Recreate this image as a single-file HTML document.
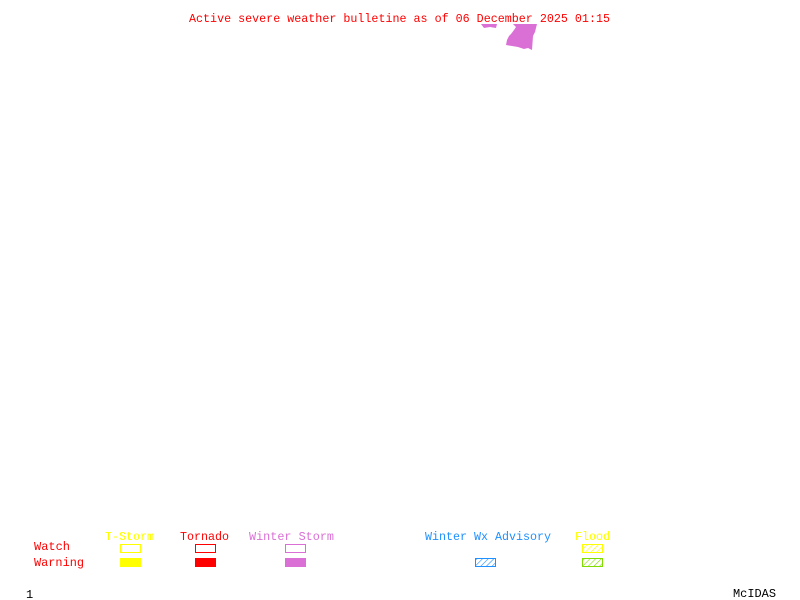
<!DOCTYPE html>
<html><head><meta charset="utf-8"><style>
html,body{margin:0;padding:0;background:#fff;width:800px;height:600px;overflow:hidden}
text{font-family:"Liberation Mono",monospace;font-size:12px}
</style></head><body>
<svg width="800" height="600" xmlns="http://www.w3.org/2000/svg">
<defs>
<pattern id="hb" width="4" height="4" patternUnits="userSpaceOnUse" patternTransform="rotate(45)"><line x1="0" y1="0" x2="0" y2="4" stroke="#1e90ff" stroke-width="1.2"/></pattern>
<pattern id="hy" width="4" height="4" patternUnits="userSpaceOnUse" patternTransform="rotate(45)"><line x1="0" y1="0" x2="0" y2="4" stroke="#ffff00" stroke-width="1.2"/></pattern>
<pattern id="hg" width="4" height="4" patternUnits="userSpaceOnUse" patternTransform="rotate(45)"><line x1="0" y1="0" x2="0" y2="4" stroke="#7fdd00" stroke-width="1.2"/></pattern>
</defs>
<text x="189" y="22" fill="#ff0000" textLength="421" lengthAdjust="spacingAndGlyphs">Active severe weather bulletine as of 06 December 2025 01:15</text>
<polygon fill="#da70d6" points="481,24 497,24 496,28 490,27 484,28"/>
<polygon fill="#da70d6" points="513,24 537,24 535,32 533,36 532,50 528,48 524,49 518,47 512,46 506,45 507,40 509,36 511,34 514,30 516,27"/>
<text x="105" y="540" fill="#ffff00" textLength="49" lengthAdjust="spacingAndGlyphs">T-Storm</text>
<text x="180" y="540" fill="#ff0000" textLength="49" lengthAdjust="spacingAndGlyphs">Tornado</text>
<text x="249" y="540" fill="#da70d6" textLength="85" lengthAdjust="spacingAndGlyphs">Winter Storm</text>
<text x="425" y="540" fill="#1e90ff" textLength="126" lengthAdjust="spacingAndGlyphs">Winter Wx Advisory</text>
<text x="575" y="540" fill="#ffff00" textLength="35" lengthAdjust="spacingAndGlyphs">Flood</text>
<text x="34" y="550" fill="#ff0000" textLength="36" lengthAdjust="spacingAndGlyphs">Watch</text>
<text x="34" y="566" fill="#ff0000" textLength="50" lengthAdjust="spacingAndGlyphs">Warning</text>
<rect x="120.5" y="544.5" width="20" height="8" fill="none" stroke="#ffff00"/>
<rect x="120" y="558" width="21" height="9" fill="#ffff00"/>
<rect x="195.5" y="544.5" width="20" height="8" fill="none" stroke="#ff0000"/>
<rect x="195" y="558" width="21" height="9" fill="#ff0000"/>
<rect x="285.5" y="544.5" width="20" height="8" fill="none" stroke="#da70d6"/>
<rect x="285" y="558" width="21" height="9" fill="#da70d6"/>
<rect x="475.5" y="558.5" width="20" height="8" fill="url(#hb)" stroke="#1e90ff"/>
<rect x="582.5" y="544.5" width="20" height="8" fill="url(#hy)" stroke="#ffff00"/>
<rect x="582.5" y="558.5" width="20" height="8" fill="url(#hg)" stroke="#7fdd00"/>
<text x="26" y="598" fill="#000">1</text>
<text x="733" y="597" fill="#000" textLength="43" lengthAdjust="spacingAndGlyphs">McIDAS</text>
</svg>
</body></html>
